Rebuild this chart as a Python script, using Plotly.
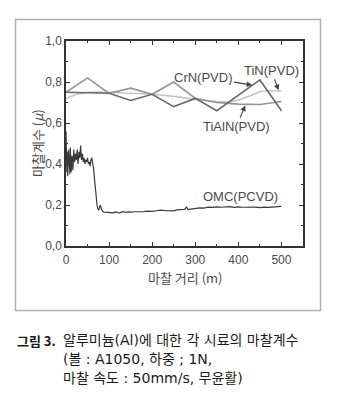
import plotly.graph_objects as go

# ---- data ----
crn_x = [0, 100, 150, 200, 250, 300, 350, 450, 500]
crn_y = [0.75, 0.745, 0.71, 0.74, 0.68, 0.72, 0.66, 0.81, 0.66]

tialn_x = [0, 50, 100, 150, 200, 250, 300, 350, 400, 450, 500]
tialn_y = [0.75, 0.82, 0.745, 0.77, 0.74, 0.80, 0.72, 0.70, 0.692, 0.69, 0.705]

tin_x = [0, 25, 50, 100, 150, 200, 250, 300, 350, 380, 400, 430, 450, 470, 500]
tin_y = [0.72, 0.74, 0.75, 0.75, 0.745, 0.74, 0.73, 0.715, 0.705, 0.703, 0.712, 0.735, 0.752, 0.757, 0.755]

omc_x = [0, 1, 2, 3, 4, 5, 6, 7, 8, 9, 10, 12, 14, 16, 18, 20, 22, 24, 26, 28,
         30, 32, 34, 36, 38, 40, 42, 44, 46, 48, 50, 52, 54, 56, 58, 60, 62, 64,
         66, 68, 70, 72, 74, 76, 78, 80, 82, 84, 86, 88, 90, 95, 100, 105, 110,
         115, 120, 125, 130, 135, 140, 145, 150, 160, 170, 180, 190, 200, 210,
         220, 230, 240, 250, 260, 270, 275, 280, 283, 290, 300, 310, 320, 330,
         340, 350, 360, 370, 380, 390, 400, 410, 420, 430, 440, 450, 460, 470,
         480, 490, 500]
omc_y = [0.56, 0.40, 0.36, 0.46, 0.34, 0.41, 0.47, 0.38, 0.44, 0.35, 0.48, 0.36,
         0.44, 0.37, 0.47, 0.41, 0.45, 0.42, 0.47, 0.40, 0.46, 0.43, 0.49, 0.42,
         0.45, 0.41, 0.43, 0.40, 0.42, 0.41, 0.43, 0.40, 0.41, 0.39, 0.42, 0.43,
         0.40, 0.38, 0.33, 0.27, 0.23, 0.20, 0.18, 0.175, 0.19, 0.20, 0.18, 0.17,
         0.168, 0.165, 0.165, 0.162, 0.165, 0.163, 0.162, 0.166, 0.163, 0.161,
         0.168, 0.165, 0.164, 0.166, 0.165, 0.167, 0.166, 0.168, 0.170, 0.169,
         0.172, 0.175, 0.173, 0.172, 0.171, 0.177, 0.179, 0.178, 0.190, 0.178,
         0.180, 0.183, 0.186, 0.185, 0.190, 0.188, 0.191, 0.189, 0.190, 0.192,
         0.188, 0.191, 0.189, 0.190, 0.188, 0.190, 0.187, 0.190, 0.188, 0.190,
         0.192, 0.193]

x_ticks = [0, 100, 200, 300, 400, 500]
y_ticks = [0.0, 0.2, 0.4, 0.6, 0.8, 1.0]

x_title = "마찰 거리 (m)"
y_title = "마찰계수 (<i>μ</i>)"
caption_head = "<b>그림 3.</b>"
caption_lines = ["알루미늄(Al)에 대한 각 시료의 마찰계수",
                 "(볼 : A1050, 하중 ; 1N,",
                 "마찰 속도 : 50mm/s, 무윤활)"]

# ---- geometry (pixels) ----
W, H = 341, 405
L, R, T, B = 66, 38, 41, 159
PW, PH = W - L - R, H - T - B


def px(xp):
    return (xp - L) / PW


def py(yp):
    return (H - B - yp) / PH


LABEL_FONT = dict(family="Liberation Sans, Arial, sans-serif", size=13, color="#4a4a4a")
CJK = "Noto Sans CJK KR, sans-serif"
CAPTION = "DejaVu Sans, Noto Sans CJK KR, sans-serif"

fig = go.Figure()
fig.add_trace(go.Scatter(x=tin_x, y=tin_y, mode="lines", line=dict(color="#c4c4c4", width=1.6, shape="spline", smoothing=0.8)))
fig.add_trace(go.Scatter(x=tialn_x, y=tialn_y, mode="lines", line=dict(color="#959595", width=1.6)))
fig.add_trace(go.Scatter(x=crn_x, y=crn_y, mode="lines", line=dict(color="#6a6a6a", width=1.6)))
fig.add_trace(go.Scatter(x=omc_x, y=omc_y, mode="lines", line=dict(color="#3a3a3a", width=1.2)))

annotations = [
    dict(x=432, y=0.785, xref="x", yref="y", text="CrN(PVD)", showarrow=True,
         ax=-49, ay=-8, arrowhead=2, arrowsize=1, arrowwidth=1.1, arrowcolor="#444", font=LABEL_FONT),
    dict(x=493, y=0.76, xref="x", yref="y", text="TiN(PVD)", showarrow=True,
         ax=-7, ay=-20, arrowhead=2, arrowsize=1, arrowwidth=1.1, arrowcolor="#444", font=LABEL_FONT),
    dict(x=416, y=0.685, xref="x", yref="y", text="TiAlN(PVD)", showarrow=True,
         ax=-9, ay=21, arrowhead=2, arrowsize=1, arrowwidth=1.1, arrowcolor="#444", font=LABEL_FONT),
    dict(x=406, y=0.24, xref="x", yref="y", text="OMC(PCVD)", showarrow=False, font=LABEL_FONT),
    dict(x=px(185), y=py(277), xref="paper", yref="paper", text=x_title, showarrow=False,
         xanchor="center", yanchor="middle", font=dict(family=CJK, size=13, color="#4a4a4a")),
    dict(x=px(37), y=py(143), xref="paper", yref="paper", text=y_title, showarrow=False, textangle=-90,
         xanchor="center", yanchor="middle", font=dict(family=CJK, size=13, color="#4a4a4a")),
    dict(x=px(15), y=py(340), xref="paper", yref="paper", text=caption_head, showarrow=False,
         xanchor="left", yanchor="middle", font=dict(family=CJK, size=13, color="#1a1a1a")),
]
for i, line in enumerate(caption_lines):
    annotations.append(dict(x=px(61), y=py(340 + 19 * i), xref="paper", yref="paper", text=line,
                            showarrow=False, xanchor="left", yanchor="middle",
                            font=dict(family=CAPTION, size=14, color="#1a1a1a")))

axis_common = dict(
    showgrid=False, zeroline=False, showline=True, linecolor="#333", linewidth=1.5,
    mirror="ticks", ticks="inside", ticklen=4, tickwidth=1.2, tickcolor="#333",
    tickfont=dict(family="Liberation Sans, Arial, sans-serif", size=12, color="#4a4a4a"),
)

# light frame around the chart panel, placed relative to the axes' domains
FL, FT, FR, FB = 15.5, 19.5, 320.5, 310.5
frame = dict(type="rect", xref="x domain", yref="y domain",
             x0=px(FL), x1=px(FR), y0=py(FB), y1=py(FT),
             line=dict(color="#b0b0b0", width=1.5), fillcolor="rgba(0,0,0,0)", layer="above")

fig.update_layout(
    width=W, height=H, margin=dict(l=L, r=R, t=T, b=B),
    paper_bgcolor="white", plot_bgcolor="white", showlegend=False,
    separators=",.",
    xaxis=dict(range=[0, 550], tickvals=x_ticks, ticklabelstandoff=2,
               minor=dict(dtick=50, tick0=0, ticks="inside", ticklen=2, tickcolor="#333"), **axis_common),
    yaxis=dict(range=[0, 1.0], tickvals=y_ticks, tickformat=".1f",
               minor=dict(dtick=0.1, tick0=0, ticks="inside", ticklen=2, tickcolor="#333"), **axis_common),
    annotations=annotations,
    shapes=[frame],
)

fig.write_html("out.html")
